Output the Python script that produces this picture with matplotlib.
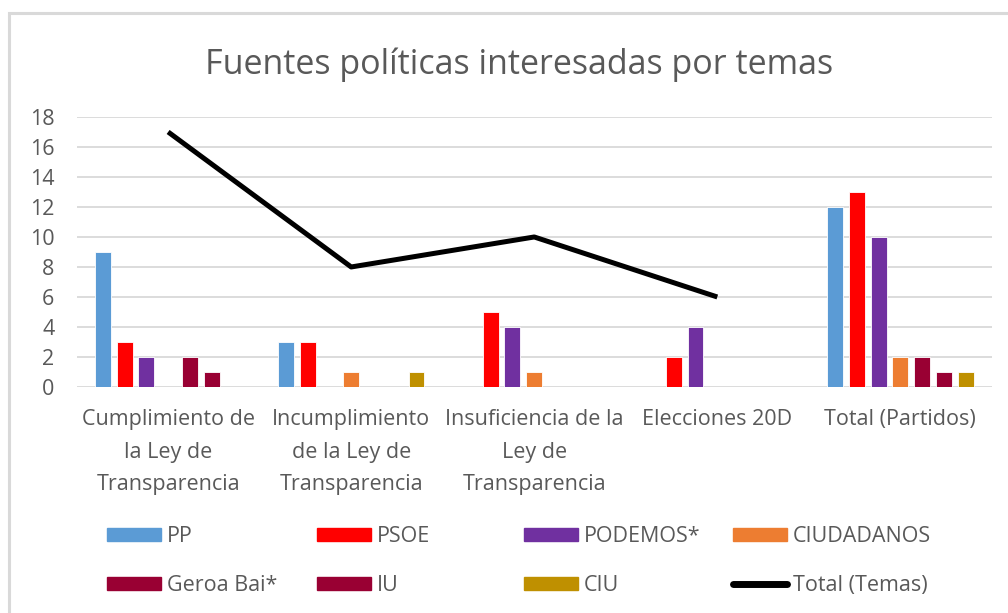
import numpy as np
import matplotlib
matplotlib.use('Agg')
import matplotlib.pyplot as plt
from matplotlib.patches import Patch, Rectangle
from matplotlib.lines import Line2D

plt.rcParams['font.family'] = ['Open Sans', 'DejaVu Sans']

# Data
categories = ['Cumplimiento de\nla Ley de\nTransparencia',
              'Incumplimiento\nde la Ley de\nTransparencia',
              'Insuficiencia de la\nLey de\nTransparencia',
              'Elecciones 20D',
              'Total (Partidos)']
parties = ['PP', 'PSOE', 'PODEMOS*', 'CIUDADANOS', 'Geroa Bai*', 'IU', 'CIU']
pp = [9, 3, 0, 0, 12]
psoe = [3, 3, 5, 2, 13]
podemos = [2, 0, 4, 4, 10]
ciudadanos = [0, 1, 1, 0, 2]
geroa = [2, 0, 0, 0, 2]
iu = [1, 0, 0, 0, 1]
ciu = [0, 1, 0, 0, 1]
total_temas = [17, 8, 10, 6]

colors = ['#5B9BD5', '#FF0000', '#7030A0', '#ED7D31', '#990033', '#990033', '#BF9000']
series = [pp, psoe, podemos, ciudadanos, geroa, iu, ciu]

text_col = '#595959'
grid_col = '#D9D9D9'
fs = 15.5

fig = plt.figure(figsize=(10.08, 6.13), dpi=100)
ax = fig.add_axes([0.076, 0.3687, 0.908, 0.4405])

x = np.arange(len(categories))
slot = 0.119
width = 0.087
for i, (vals, c) in enumerate(zip(series, colors)):
    ax.bar(x + (i - 3) * slot, vals, width=width, color=c,
           edgecolor='white', linewidth=0.6, zorder=3)

ax.plot(x[:len(total_temas)], total_temas, color='black', lw=3.6, zorder=4,
        solid_capstyle='butt')

ax.set_xlim(-0.5, len(categories) - 0.5)
ax.set_ylim(0, 18)
ax.set_yticks(range(0, 19, 2))
ax.yaxis.grid(True, color=grid_col, lw=1.3, zorder=0)
ax.set_axisbelow(True)
for s in ax.spines.values():
    s.set_visible(False)
ax.tick_params(axis='both', length=0, colors=text_col, labelsize=fs)
ax.tick_params(axis='y', pad=16)
ax.set_xticks(x)
ax.set_xticklabels(categories, linespacing=1.72, color=text_col, fontsize=fs)
ax.tick_params(axis='x', pad=16)

fig.text(0.515, 0.894, 'Fuentes políticas interesadas por temas', ha='center',
         va='center', fontsize=24.5, color=text_col)

# Legend: 4 columns, each built as its own legend for equal spacing
handles = [Patch(color=c) for c in colors] + \
          [Line2D([], [], color='black', lw=5, solid_capstyle='round')]
labels = parties + ['Total (Temas)']
order = [(0, 4), (1, 5), (2, 6), (3, 7)]
col_x = [107, 317, 524, 733]
for (a, b), cx in zip(order, col_x):
    fig.legend([handles[a], handles[b]], [labels[a], labels[b]],
               loc='upper left', bbox_to_anchor=(cx / 1008, 0.142), frameon=False,
               fontsize=fs, labelcolor=text_col, handlelength=2.5,
               handleheight=0.6, handletextpad=0.28, labelspacing=1.3,
               borderaxespad=0, borderpad=0)

# chart border
fig.patches.append(Rectangle((9 / 1008, -0.1), 1.2, 1 - 13 / 613 + 0.1,
                             transform=fig.transFigure, fill=False,
                             edgecolor=grid_col, lw=2.2))

fig.savefig('out.png', dpi=100)
